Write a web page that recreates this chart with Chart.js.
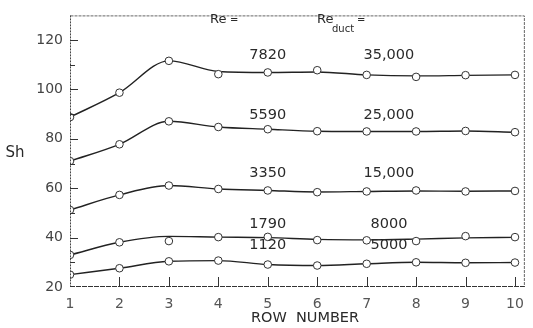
<!DOCTYPE html>
<html>
<head>
<meta charset="utf-8">
<script src="https://cdn.jsdelivr.net/npm/chart.js@4"></script>
<style>
  html, body { margin: 0; padding: 0; background: #fff; }
  #wrap { width: 533px; height: 328px; }
</style>
</head>
<body>
<div id="wrap"><canvas id="myChart" width="533" height="328"></canvas></div>
<script>
// row numbers
var rows = [1,2,3,4,5,6,7,8,9,10];
var yTicks = [20,40,60,80,100,120];

// measured points (circles)
var pts7820 = [88.8,98.7,111.6,106.2,106.9,107.8,105.9,105.1,105.8,105.9];
var pts5590 = [71.0,77.8,87.1,84.8,83.9,83.1,83.0,83.0,83.2,82.7];
var pts3350 = [51.2,57.3,61.1,59.7,59.1,58.4,58.7,59.1,58.7,58.9];
var pts1790 = [33.0,38.1,38.6,40.2,40.3,39.0,38.9,38.6,40.6,40.2];
var pts1120 = [25.0,27.6,30.4,30.7,29.1,28.7,29.4,30.0,29.8,29.9];

// faired curves through them
var fit7820 = [88.8,98.7,111.6,107.3,106.9,107.1,105.9,105.5,105.7,105.9];
var fit5590 = [71.0,77.8,87.1,84.8,83.9,83.1,83.0,83.0,83.2,82.7];
var fit3350 = [51.2,57.3,61.1,59.7,59.1,58.5,58.7,58.9,58.8,58.9];
var fit1790 = [33.0,38.1,40.5,40.2,40.0,39.3,39.1,39.4,39.9,40.1];
var fit1120 = [25.0,27.6,30.4,30.7,29.1,28.7,29.4,30.0,29.8,29.9];

var reVals = ['7820','5590','3350','1790','1120'];
var reDuct = ['35,000','25,000','15,000','8000','5000'];

var ink = '#222';
var FONT = '"DejaVu Sans", sans-serif';

function xy(arr) { return arr.map(function(v, i) { return {x: rows[i], y: v}; }); }

var fits = [fit7820, fit5590, fit3350, fit1790, fit1120];
var pts = [pts7820, pts5590, pts3350, pts1790, pts1120];
var datasets = [];
fits.forEach(function(f) {
  datasets.push({
    data: xy(f), borderColor: ink, borderWidth: 1.4, pointRadius: 0,
    cubicInterpolationMode: 'monotone', fill: false, order: 2
  });
});
pts.forEach(function(p) {
  datasets.push({
    data: xy(p), showLine: false, pointRadius: 3.8, pointBorderWidth: 1,
    pointBorderColor: '#333', pointBackgroundColor: '#fff', order: 1
  });
});

// label anchors in data units (x1, y, x2)
var labelAt = [[5,113.9,7.45],[5,89.5,7.45],[5,66.0,7.45],[5,45.6,7.45],[5,36.8,7.45]];

var deco = {
  id: 'deco',
  afterDraw: function(chart) {
    var c = chart.ctx, a = chart.chartArea;
    var sx = chart.scales.x, sy = chart.scales.y;
    c.save();
    // frame
    c.strokeStyle = '#666';
    c.lineWidth = 1;
    c.setLineDash([3,1]);
    c.beginPath();
    c.moveTo(a.left + 0.5, a.top + 0.5);
    c.lineTo(a.right - 0.5, a.top + 0.5);
    c.lineTo(a.right - 0.5, a.bottom - 0.5);
    c.stroke();
    c.strokeStyle = '#444';
    c.setLineDash([2,1]);
    c.beginPath();
    c.moveTo(a.left + 0.5, a.top);
    c.lineTo(a.left + 0.5, a.bottom - 0.5);
    c.stroke();
    c.strokeStyle = '#333';
    c.setLineDash([5,1]);
    c.beginPath();
    c.moveTo(a.left, a.bottom - 0.5);
    c.lineTo(a.right, a.bottom - 0.5);
    c.stroke();
    c.setLineDash([]);
    // y ticks (inside)
    c.strokeStyle = '#333';
    for (var v = 30; v <= 120; v += 10) {
      var py = Math.round(sy.getPixelForValue(v)) + 0.5;
      c.beginPath();
      c.moveTo(a.left, py);
      c.lineTo(a.left + (v % 20 === 0 ? 8 : 5), py);
      c.stroke();
    }
    // x ticks (inside)
    for (var r = 2; r <= 10; r++) {
      var px = Math.round(sx.getPixelForValue(r)) + 0.5;
      c.beginPath();
      c.moveTo(px, a.bottom);
      c.lineTo(px, a.bottom - 10);
      c.stroke();
    }
    // Re labels
    c.fillStyle = '#2a2a2a';
    c.textAlign = 'center';
    c.textBaseline = 'middle';
    c.font = '14.5px ' + FONT;
    labelAt.forEach(function(p, i) {
      c.fillText(reVals[i], sx.getPixelForValue(p[0]), sy.getPixelForValue(p[1]));
      c.fillText(reDuct[i], sx.getPixelForValue(p[2]), sy.getPixelForValue(p[1]));
    });
    // headers
    c.textAlign = 'left';
    c.font = '13px ' + FONT;
    c.fillText('Re', 210, 20);
    c.font = '10px ' + FONT;
    c.fillText('=', 230, 20);
    c.font = '13px ' + FONT;
    c.fillText('Re', 317, 20);
    c.font = '10px ' + FONT;
    c.fillText('duct', 332, 29);
    c.fillText('=', 357, 20);
    // axis titles
    c.textAlign = 'center';
    c.font = '15px ' + FONT;
    c.fillText('Sh', 15, 153);
    c.font = '14.5px ' + FONT;
    c.fillText('ROW  NUMBER', 305, 318);
    c.restore();
  }
};

var ch1 = document.getElementById('myChart');
var myChart = new Chart(ch1, {
  type: 'line',
  data: { datasets: datasets },
  options: {
    responsive: false,
    animation: false,
    layout: { padding: { top: 9, right: 5, left: 0, bottom: 0 } },
    plugins: { legend: { display: false }, tooltip: { enabled: false } },
    scales: {
      x: {
        type: 'linear', min: 1, max: 10.2,
        grid: { display: false, drawTicks: false },
        border: { display: false },
        afterBuildTicks: function(s) { s.ticks = rows.map(function(v) { return {value: v}; }); },
        afterFit: function(s) { s.height = 41; },
        ticks: { padding: 9, color: '#555', font: { family: FONT, size: 14 } }
      },
      y: {
        min: 20, max: 130,
        grid: { display: false, drawTicks: false },
        border: { display: false },
        afterBuildTicks: function(s) { s.ticks = yTicks.map(function(v) { return {value: v}; }); },
        afterFit: function(s) { s.width = 70; },
        ticks: { padding: 7, color: '#444', font: { family: FONT, size: 14 } }
      }
    }
  },
  plugins: [deco]
});
</script>
</body>
</html>
